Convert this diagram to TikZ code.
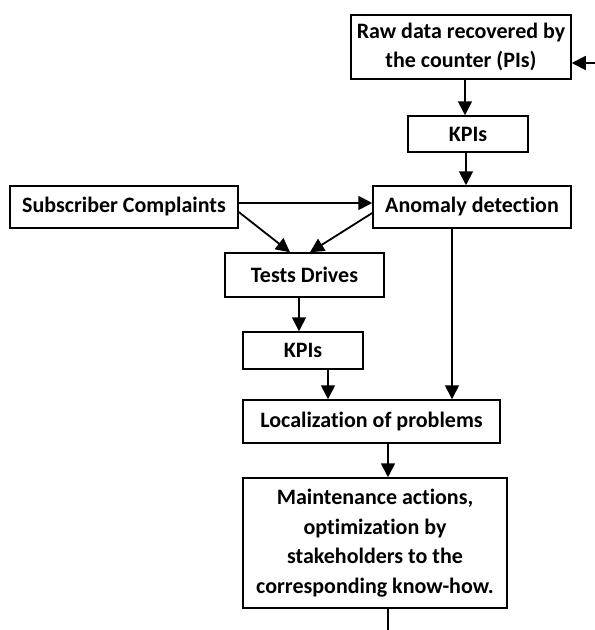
\documentclass[tikz,border=0pt]{standalone}
\usepackage{fontspec}
\setmainfont[Ligatures=NoCommon]{Carlito}
\usetikzlibrary{arrows.meta}

\begin{document}
\begin{tikzpicture}[x=1pt,y=-1pt,font=\bfseries\fontsize{22}{29.5}\selectfont,
	box/.style={draw,line width=1.5pt,align=center,inner sep=0pt},
	arr/.style={line width=1.8pt,-{Triangle[length=14pt,width=14pt]}}]
	\useasboundingbox (0,0) rectangle (595,630);

	%boxes
	\node[box,minimum width=220pt,minimum height=64pt] (raw) at (461,47) {Raw data recovered by\\the counter (PIs)};
	\node[box,minimum width=120pt,minimum height=36pt] (kpiA) at (468,134) {KPIs};
	\node[box,minimum width=198pt,minimum height=42pt] (anomaly) at (472,207) {Anomaly detection};
	\node[box,minimum width=228pt,minimum height=42pt] (sub) at (124,207) {Subscriber Complaints};
	\node[box,minimum width=159pt,minimum height=44pt] (tests) at (304.5,275) {Tests Drives};
	\node[box,minimum width=120pt,minimum height=37pt] (kpiB) at (303,350.5) {KPIs};
	\node[box,minimum width=257pt,minimum height=43pt] (loc) at (371.5,421.5) {Localization of problems};
	\node[box,minimum width=264pt,minimum height=130pt] (maint) at (375,543) {Maintenance actions,\\optimization by\\stakeholders to the\\corresponding know-how.};

	%free ends
	\coordinate (feed) at (595,63); %counter input
	\coordinate (out) at (388,630); %output below

	%arrows
	\draw[arr] (feed) -- (feed -| raw.east);
	\draw[arr] ([xshift=4pt]raw.south) -- ([xshift=4pt]raw.south |- kpiA.north);
	\draw[arr] ([xshift=-2pt]kpiA.south) -- ([xshift=-2pt]kpiA.south |- anomaly.north);
	\draw[arr] ([yshift=4pt]sub.east) -- ([yshift=4pt]sub.east -| anomaly.west);
	\draw[arr] ([yshift=-5pt]sub.east) -- ([xshift=-14.5pt]tests.north);
	\draw[arr] ([yshift=-6pt]anomaly.west) -- ([xshift=5.5pt]tests.north);
	\draw[arr] ([xshift=-4pt]kpiB.north |- tests.south) -- ([xshift=-4pt]kpiB.north);
	\draw[arr] ([xshift=25pt]kpiB.south) -- ([xshift=25pt]kpiB.south |- loc.north);
	\draw[arr] ([xshift=-20pt]anomaly.south) -- ([xshift=-20pt]anomaly.south |- loc.north);
	\draw[arr] ([xshift=16.5pt]loc.south) -- ([xshift=16.5pt]loc.south |- maint.north);
	\draw[line width=1.8pt] (maint.south -| out) -- (out);
\end{tikzpicture}
\end{document}
